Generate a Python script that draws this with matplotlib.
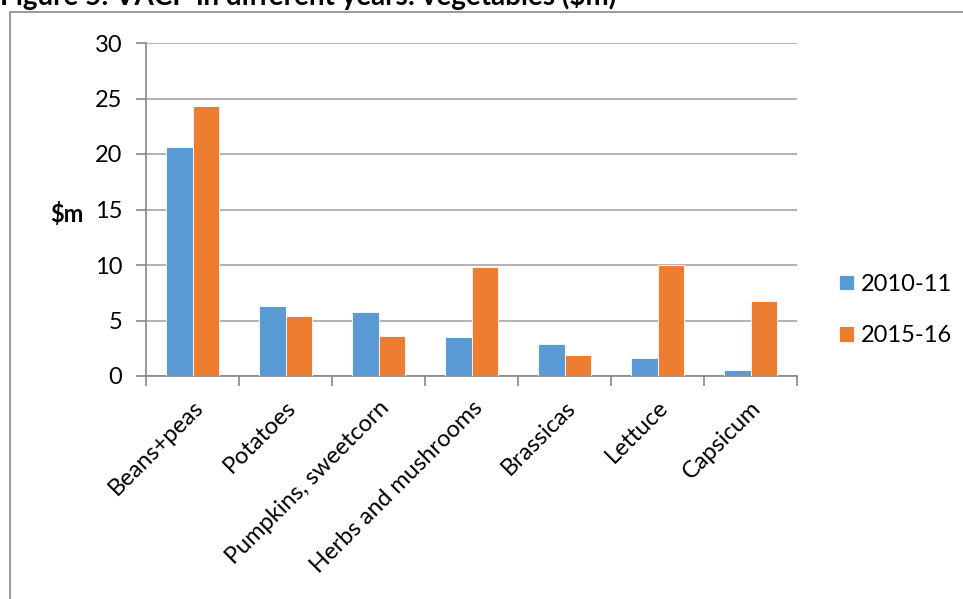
import numpy as np
import matplotlib.pyplot as plt
from matplotlib.patches import Rectangle

plt.rcParams['font.family'] = ['Lato', 'DejaVu Sans']

crops = ['Beans+peas', 'Potatoes', 'Pumpkins, sweetcorn', 'Herbs and mushrooms',
         'Brassicas', 'Lettuce', 'Capsicum']
vacp_2010 = [20.6, 6.3, 5.8, 3.5, 2.9, 1.6, 0.5]
vacp_2015 = [24.3, 5.4, 3.6, 9.8, 1.9, 10.0, 6.8]
years = ['2010-11', '2015-16']

blue = '#5b9bd5'
orange = '#ed7d31'
grid_c = '#a6a6a6'

fig = plt.figure(figsize=(9.63, 5.99), dpi=100)
W, H = 963, 599
ax = fig.add_axes([146 / W, 1 - 376 / H, (797 - 146) / W, (376 - 43) / H])

x = np.arange(len(crops))
bw = 0.285
ax.bar(x - bw / 2, vacp_2010, bw, color=blue, edgecolor='white', linewidth=0.6, label=years[0], zorder=3)
ax.bar(x + bw / 2, vacp_2015, bw, color=orange, edgecolor='white', linewidth=0.6, label=years[1], zorder=3)

ax.set_xlim(-0.5, len(crops) - 0.5)
ax.set_ylim(0, 30)
ax.set_yticks(range(0, 31, 5))
ax.yaxis.grid(True, color=grid_c, linewidth=1.2)
ax.set_axisbelow(True)

# category boundary ticks below the axis
ax.set_xticks(np.arange(-0.5, len(crops), 1.0))
ax.set_xticklabels([])
ax.set_xticks(x, minor=True)
ax.set_xticklabels(crops, minor=True, rotation=45, ha='right', va='top',
                   rotation_mode='anchor', fontsize=17)
ax.tick_params(axis='x', which='minor', length=0, pad=15)
ax.tick_params(axis='x', which='major', length=7, color='#868686', width=1.2)
ax.tick_params(axis='y', length=7, color='#868686', width=1.2, labelsize=17, pad=10)

for s in ['top', 'right']:
    ax.spines[s].set_visible(False)
for s in ['left', 'bottom']:
    ax.spines[s].set_color('#868686')
    ax.spines[s].set_linewidth(1.2)

fig.text(50 / W, 1 - 214 / H, r'\$m', fontsize=17, fontweight='bold', va='center', ha='left')

leg = ax.legend(loc='center left', bbox_to_anchor=(839 / W, 1 - 310 / H),
                bbox_transform=fig.transFigure, frameon=False, fontsize=17, borderpad=0,
                borderaxespad=0, handlelength=0.62, handleheight=0.62, handletextpad=0.3,
                labelspacing=1.3)

# frame around the chart area
fig.patches.append(Rectangle((10 / W, -0.1), 1.2, 1 - 12 / H + 0.1, transform=fig.transFigure,
                             fill=False, edgecolor='#888888', linewidth=1.2))

fig.text(0, 1 - 5 / H, 'Figure 5: VACP in different years: vegetables (\\$m)',
         fontsize=20, fontweight='bold', va='baseline', ha='left')

fig.savefig('out.png', dpi=100)
